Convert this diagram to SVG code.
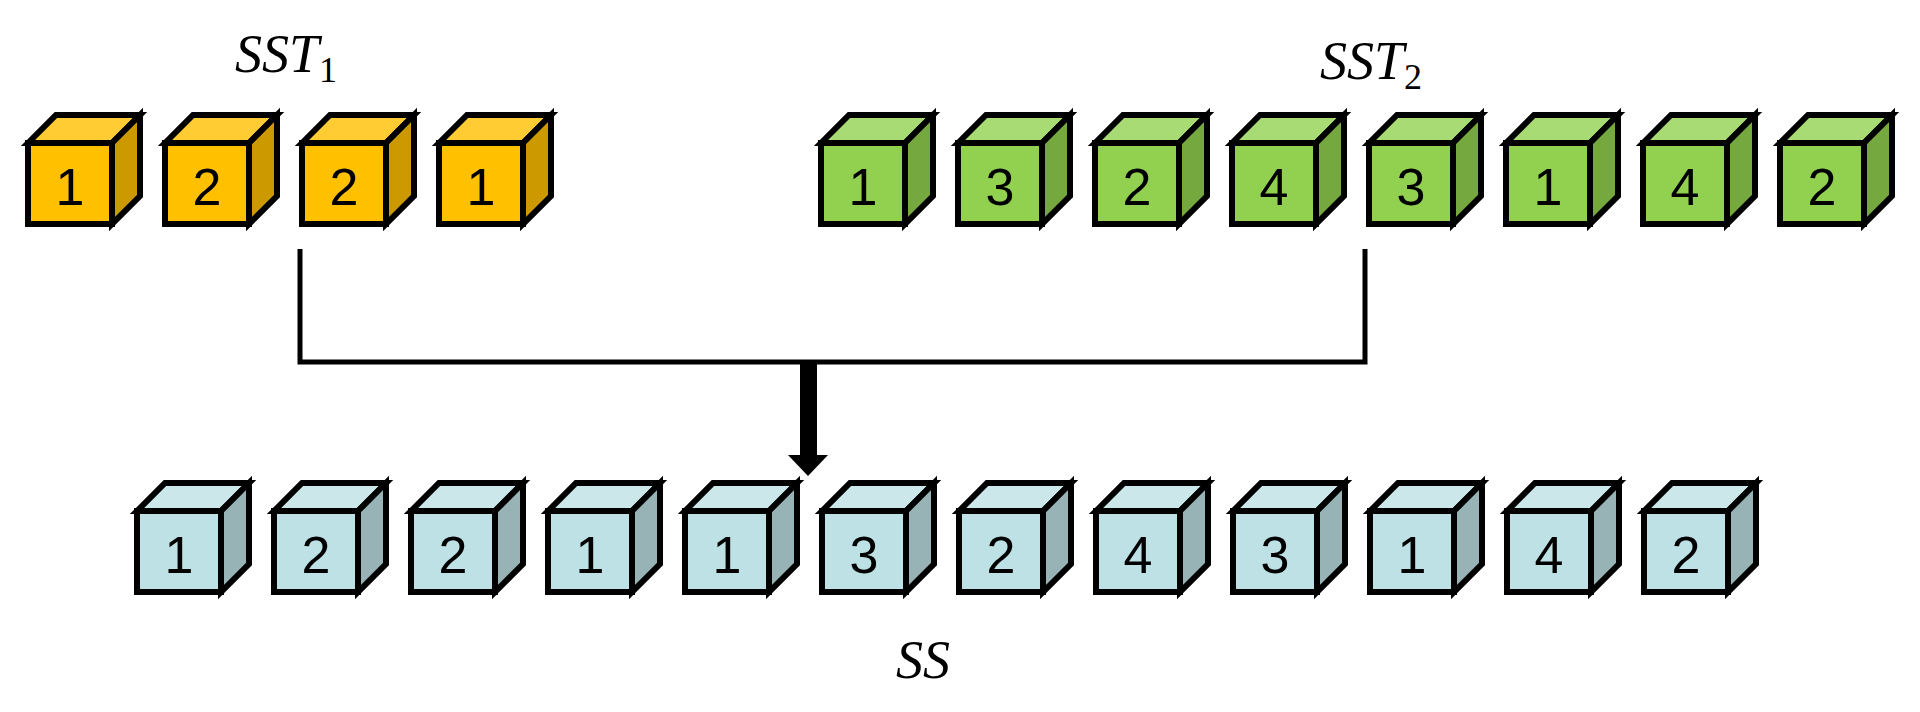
<svg xmlns="http://www.w3.org/2000/svg" width="1920" height="712" viewBox="0 0 1920 712">
<style>
.e{stroke:#000;stroke-width:6;stroke-linejoin:miter}
.t{fill:var(--t)}.s{fill:var(--s)}.f{fill:var(--f)}
.o{--f:#FFC000;--t:#FFCD33;--s:#CC9A00}
.g{--f:#92D050;--t:#A9DB75;--s:#75A83F}
.b{--f:#BDE1E4;--t:#CBE7EA;--s:#97B3B6}
.n{font-family:"Liberation Sans",Arial,sans-serif;font-size:52px;text-anchor:middle;fill:#000}
.lab{font-family:"Liberation Serif","Times New Roman",serif;font-style:italic;font-size:54px;fill:#000}
.sub{font-family:"Liberation Serif","Times New Roman",serif;font-style:normal;font-size:36px;fill:#000}
</style>
<defs>
<g id="cube">
<polygon class="e t" points="0,28 28,0 112,0 84,28"/>
<polygon class="e s" points="84,28 112,0 112,81 84,109"/>
<rect class="e f" x="0" y="28" width="84" height="81"/>
</g>
</defs>
<rect width="1920" height="712" fill="#fff"/>
<g id="connectors">
<path d="M300,249 V362 H1365 V249" fill="none" stroke="#000" stroke-width="5"/>
<rect x="800" y="360" width="17" height="97" fill="#000"/>
<polygon points="788,455 828,455 808,476" fill="#000"/>
</g>
<text class="lab" x="235" y="72">SST<tspan class="sub" dy="10">1</tspan></text>
<text class="lab" x="1320" y="79">SST<tspan class="sub" dy="10">2</tspan></text>
<text class="lab" x="896" y="678">SS</text>
<g id="sst1" class="o">
<g id="o1" transform="translate(28,115)"><use href="#cube"/><text class="n" x="42" y="90">1</text></g>
<g id="o2" transform="translate(165,115)"><use href="#cube"/><text class="n" x="42" y="90">2</text></g>
<g id="o3" transform="translate(302,115)"><use href="#cube"/><text class="n" x="42" y="90">2</text></g>
<g id="o4" transform="translate(439,115)"><use href="#cube"/><text class="n" x="42" y="90">1</text></g>
</g>
<g id="sst2" class="g">
<g id="g1" transform="translate(821,115)"><use href="#cube"/><text class="n" x="42" y="90">1</text></g>
<g id="g2" transform="translate(958,115)"><use href="#cube"/><text class="n" x="42" y="90">3</text></g>
<g id="g3" transform="translate(1095,115)"><use href="#cube"/><text class="n" x="42" y="90">2</text></g>
<g id="g4" transform="translate(1232,115)"><use href="#cube"/><text class="n" x="42" y="90">4</text></g>
<g id="g5" transform="translate(1369,115)"><use href="#cube"/><text class="n" x="42" y="90">3</text></g>
<g id="g6" transform="translate(1506,115)"><use href="#cube"/><text class="n" x="42" y="90">1</text></g>
<g id="g7" transform="translate(1643,115)"><use href="#cube"/><text class="n" x="42" y="90">4</text></g>
<g id="g8" transform="translate(1780,115)"><use href="#cube"/><text class="n" x="42" y="90">2</text></g>
</g>
<g id="ss" class="b">
<g id="b1" transform="translate(137,483)"><use href="#cube"/><text class="n" x="42" y="90">1</text></g>
<g id="b2" transform="translate(274,483)"><use href="#cube"/><text class="n" x="42" y="90">2</text></g>
<g id="b3" transform="translate(411,483)"><use href="#cube"/><text class="n" x="42" y="90">2</text></g>
<g id="b4" transform="translate(548,483)"><use href="#cube"/><text class="n" x="42" y="90">1</text></g>
<g id="b5" transform="translate(685,483)"><use href="#cube"/><text class="n" x="42" y="90">1</text></g>
<g id="b6" transform="translate(822,483)"><use href="#cube"/><text class="n" x="42" y="90">3</text></g>
<g id="b7" transform="translate(959,483)"><use href="#cube"/><text class="n" x="42" y="90">2</text></g>
<g id="b8" transform="translate(1096,483)"><use href="#cube"/><text class="n" x="42" y="90">4</text></g>
<g id="b9" transform="translate(1233,483)"><use href="#cube"/><text class="n" x="42" y="90">3</text></g>
<g id="b10" transform="translate(1370,483)"><use href="#cube"/><text class="n" x="42" y="90">1</text></g>
<g id="b11" transform="translate(1507,483)"><use href="#cube"/><text class="n" x="42" y="90">4</text></g>
<g id="b12" transform="translate(1644,483)"><use href="#cube"/><text class="n" x="42" y="90">2</text></g>
</g>
</svg>
